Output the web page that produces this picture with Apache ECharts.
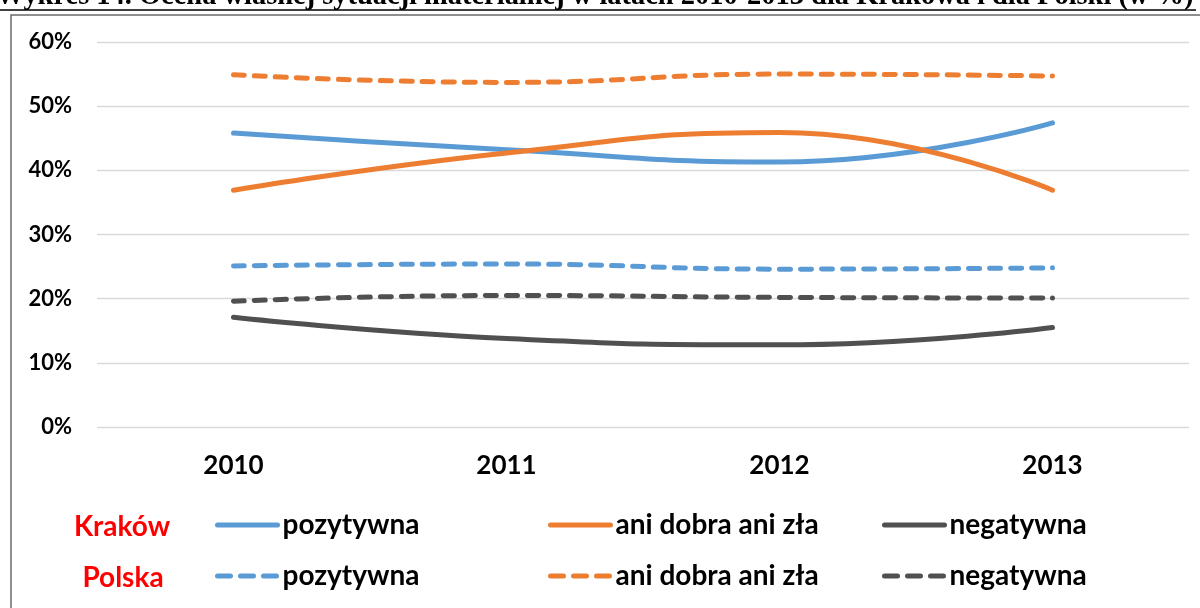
<!DOCTYPE html>
<html>
<head>
<meta charset="utf-8">
<script src="https://cdn.jsdelivr.net/npm/echarts@6/dist/echarts.min.js"></script>
<style>
html,body{margin:0;padding:0;background:#fff;}
#chart{width:1200px;height:608px;}
</style>
</head>
<body>
<div id="chart"></div>
<script>
// ---- data ----
const years = ['2010', '2011', '2012', '2013'];
const yTicks = [0, 10, 20, 30, 40, 50, 60];
const categories = ['pozytywna', 'ani dobra ani zła', 'negatywna'];
const krakowPozytywna = [45.8, 43.2, 41.3, 47.4];
const krakowAniDobra  = [36.9, 42.7, 45.9, 36.9];
const krakowNegatywna = [17.1, 13.8, 12.8, 15.5];
const polskaPozytywna = [25.1, 25.4, 24.6, 24.8];
const polskaAniDobra  = [54.9, 53.7, 55.0, 54.7];
const polskaNegatywna = [19.6, 20.5, 20.2, 20.1];
const titleText = 'Wykres 14. Ocena własnej sytuacji materialnej w latach 2010-2013 dla Krakowa i dla Polski (w %)';

const colors = ['#5B9BD5', '#ED7D31', '#505050'];
const groups = [
  {label: 'Kraków', data: [krakowPozytywna, krakowAniDobra, krakowNegatywna], dashed: false},
  {label: 'Polska', data: [polskaPozytywna, polskaAniDobra, polskaNegatywna], dashed: true}
];
const FONT = 'Lato';
const dash = [11, 10];

const series = [];
const legends = [];
const legendX = [215, 548, 882];
const legendY = [527, 578];
groups.forEach((g, gi) => {
  g.data.forEach((vals, ci) => {
    const name = g.label + '|' + categories[ci];
    series.push({
      name: name,
      type: 'line',
      data: vals,
      smooth: 0.5,
      symbol: 'none',
      showSymbol: false,
      z: g.dashed ? 2 : 3,
      lineStyle: {color: colors[ci], width: 5, type: g.dashed ? dash : 'solid', cap: 'round', join: 'round'},
      itemStyle: {color: colors[ci]}
    });
    legends.push({
      data: [name],
      left: legendX[ci],
      top: legendY[gi] - 16,
      itemWidth: 60,
      itemHeight: 14,
      padding: 0,
      selectedMode: false,
      formatter: n => n.split('|')[1],
      itemStyle: {opacity: 0},
      lineStyle: {width: 5, color: colors[ci], type: g.dashed ? [13, 10] : 'solid', cap: 'round'},
      textStyle: {fontFamily: FONT, fontWeight: 'bold', fontSize: 28, color: '#000'}
    });
  });
});

// fit title width
const cvs = document.createElement('canvas').getContext('2d');
let tfs = 26;
cvs.font = 'bold ' + tfs + 'px "Liberation Serif"';
tfs = tfs * 1198 / cvs.measureText(titleText).width;

const chart = echarts.init(document.getElementById('chart'), null, {renderer: 'canvas'});
chart.setOption({
  animation: false,
  backgroundColor: '#fff',
  grid: {left: 97, right: 11, top: 42, bottom: 181, containLabel: false},
  xAxis: {
    type: 'category',
    data: years,
    boundaryGap: true,
    axisLine: {show: false},
    axisTick: {show: false},
    axisLabel: {fontFamily: FONT, fontWeight: 'bold', fontSize: 26, color: '#000', margin: 26}
  },
  yAxis: {
    type: 'value',
    min: yTicks[0],
    max: yTicks[yTicks.length - 1],
    interval: 10,
    axisLine: {show: false},
    axisTick: {show: false},
    splitLine: {lineStyle: {color: '#d9d9d9', width: 1.3}},
    axisLabel: {fontFamily: FONT, fontWeight: 'bold', fontSize: 22, color: '#000', margin: 25, formatter: v => v + '%'}
  },
  legend: legends,
  series: series,
  graphic: [
    {type: 'text', left: -4, top: -17, z: 10,
     style: {text: titleText, font: 'bold ' + tfs.toFixed(2) + 'px "Liberation Serif"', fill: '#000'}},
    {type: 'line', z: 10, shape: {x1: 0, y1: 10, x2: 1196, y2: 10}, style: {stroke: '#000', lineWidth: 1.5}},
    {type: 'rect', z: 10, shape: {x: 11, y: 15, width: 1250, height: 700}, style: {fill: 'none', stroke: '#6b6b6b', lineWidth: 1.5}},
    {type: 'text', z: 10, x: 122, y: legendY[0], style: {text: groups[0].label, align: 'center', verticalAlign: 'middle', font: 'bold 28px Lato', fill: '#FF0000'}},
    {type: 'text', z: 10, x: 123, y: legendY[1], style: {text: groups[1].label, align: 'center', verticalAlign: 'middle', font: 'bold 28px Lato', fill: '#FF0000'}}
  ]
});
</script>
</body>
</html>
